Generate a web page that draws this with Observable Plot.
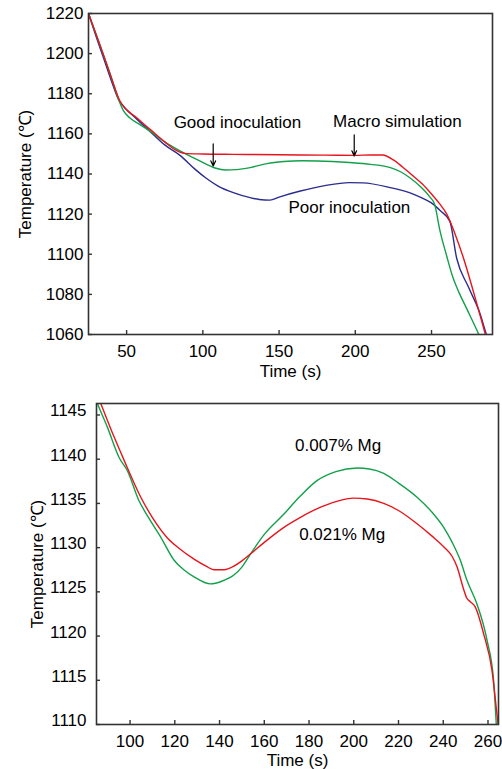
<!DOCTYPE html>
<html><head><meta charset="utf-8">
<script src="https://cdn.jsdelivr.net/npm/d3@7"></script>
<script src="https://cdn.jsdelivr.net/npm/@observablehq/plot@0.6"></script>
<style>body{margin:0;background:#fff;} svg{display:block;}</style>
</head><body><div id="chart"></div>
<script>
// ---------- Top chart data ----------
const topXTicks = [50, 100, 150, 200, 250];
const topYTicks = [1060, 1080, 1100, 1120, 1140, 1160, 1180, 1200, 1220];

const macroTime = [25, 30, 35, 40, 45.5, 50, 55, 65, 75, 82, 88, 100, 120, 150, 180, 200, 210, 218, 225, 231, 238, 244, 250, 255, 260, 265, 271, 278, 285, 290];
const macroTemp = [1220, 1209.5, 1199, 1188, 1176.5, 1172, 1169, 1162.5, 1156, 1152, 1150.3, 1150, 1149.8, 1149.6, 1149.4, 1149.3, 1149.5, 1149.5, 1147, 1143.5, 1139, 1135, 1130, 1125.5, 1120, 1111, 1098, 1080, 1061, 1048];

const goodTime = [25, 30, 35, 40, 45, 48, 52, 58, 65, 75, 85, 98, 108, 115, 122, 131, 142, 153, 165, 175, 196, 210, 223, 230, 236, 243, 249, 252, 255.6, 260, 264, 268, 273, 281, 285];
const goodTemp = [1220, 1209.5, 1199, 1188, 1176.5, 1171.5, 1168, 1165, 1161.5, 1156, 1151.5, 1146.5, 1143, 1142, 1142.2, 1143.2, 1145.2, 1146.2, 1146.6, 1146.5, 1145.7, 1144.8, 1143.2, 1141, 1138, 1133.5, 1128.5, 1125, 1111.5, 1099, 1088.5, 1081, 1073, 1060, 1053];

const poorTime = [25, 30, 35, 40, 44.5, 50, 55, 65, 75, 85, 95, 102, 110, 120, 131, 137, 144, 150, 164, 180, 196, 205, 223, 238, 247, 251, 256, 262, 266.5, 274, 282, 286, 290];
const poorTemp = [1220, 1208.5, 1197.5, 1186.5, 1177.5, 1172, 1168.5, 1161.5, 1154.5, 1149.3, 1142.3, 1138, 1134, 1130.7, 1128.2, 1127.3, 1127, 1128.5, 1131.5, 1134.2, 1135.7, 1135.6, 1133.2, 1130, 1126.8, 1125, 1121.5, 1116.5, 1098, 1084, 1070, 1060, 1052];

const topLabels = ["Good inoculation", "Macro simulation", "Poor inoculation"];
const topLabelTime = [122.7, 227.6, 196.1];
const topLabelTemp = [1165.6, 1166.2, 1123.2];
const topArrowTime = [106.8, 199.3];
const topArrowFrom = [1155, 1159.5];
const topArrowTo = [1144, 1149];

// ---------- Bottom chart data ----------
const botXTicks = [100, 120, 140, 160, 180, 200, 220, 240, 260];
const botYTicks = [1110, 1115, 1120, 1125, 1130, 1135, 1140, 1145];

const mg007Time = [84, 85.4, 89.9, 95.1, 98.8, 104, 108, 113.7, 119.6, 124, 128.6, 136, 141, 146.4, 150, 153.9, 160, 168.8, 176, 183.7, 192, 201.5, 207, 213.4, 220, 228.3, 235, 240.2, 244, 247.6, 250.6, 255.1, 259.6, 262.5, 263.7, 264.2];
const mg007Temp = [1147.2, 1146.3, 1143.6, 1140.2, 1138.7, 1135.3, 1133.5, 1131.2, 1128.6, 1127.5, 1126.7, 1125.9, 1126.2, 1126.9, 1127.8, 1129.3, 1131.5, 1133.8, 1135.8, 1137.6, 1138.6, 1139.0, 1138.9, 1138.4, 1137.3, 1135.7, 1134, 1132.3, 1130.6, 1128.6, 1126.3, 1123.6, 1119.5, 1115, 1110.1, 1108];

const mg021Time = [85, 86.9, 92.9, 97.3, 104.8, 110, 116.7, 122, 128.6, 134, 137.5, 142, 146.4, 150, 153.9, 160, 168.8, 176, 183.7, 192, 200, 206, 213.4, 220, 228.3, 235, 240.2, 244, 246.2, 249.1, 250.5, 252, 254.3, 258, 261.8, 264.3, 265];
const mg021Temp = [1147.5, 1146.3, 1142.5, 1139.9, 1135.7, 1133.4, 1131.1, 1129.9, 1128.7, 1127.9, 1127.5, 1127.5, 1127.9, 1128.5, 1129.3, 1130.6, 1132.3, 1133.4, 1134.4, 1135.2, 1135.6, 1135.5, 1135, 1134.2, 1132.7, 1131.3, 1130.1, 1129, 1127.8, 1125.3, 1124.3, 1123.9, 1123.3, 1120.3, 1116.1, 1110.5, 1109];

const botLabels = ["0.007% Mg", "0.021% Mg"];
const botLabelTime = [193, 194.8];
const botLabelTemp = [1141.6, 1131.5];

// ---------- helpers ----------
const RED = "#e8141c", GREEN = "#12a04a", BLUE = "#2b2d8e", AX = "#333";
const FONT = "'Liberation Sans', Arial, Helvetica, sans-serif";
const FS = 17;
const zip = (ts, vs) => ts.map((t, i) => ({t, v: vs[i]}));
const lineOf = (ts, vs, color) => Plot.line(zip(ts, vs), {x: "t", y: "v", stroke: color, strokeWidth: 1.4, curve: "monotone-x", clip: true});

function makeChart({height, margin, xDomain, yDomain, xTicks, yTicks, yPad, yDy, yTitleDx, xTitleDy, marks}) {
  const innerW = 502 - margin.left - margin.right;
  const innerH = height - margin.top - margin.bottom;
  return Plot.plot({
    width: 502, height,
    marginTop: margin.top, marginRight: margin.right, marginBottom: margin.bottom, marginLeft: margin.left,
    style: {fontSize: FS + "px", fontFamily: FONT, color: "#000", background: "#fff"},
    x: {domain: xDomain, label: null},
    y: {domain: yDomain, label: null},
    marks: [
      ...marks,
      Plot.frame({stroke: AX, strokeWidth: 1.6}),
      Plot.tickX(xTicks, {x: d => d, insetTop: innerH - 4, stroke: AX, strokeWidth: 1.4}),
      Plot.tickY(yTicks, {y: d => d, insetRight: innerW - 4, stroke: AX, strokeWidth: 1.4}),
      Plot.axisX({ticks: xTicks, tickSize: 0, tickPadding: 10, label: null, fill: "#000", fontSize: FS, tickFormat: d => String(d)}),
      Plot.axisY({ticks: yTicks, tickSize: 0, tickPadding: yPad, dy: yDy, label: null, fill: "#000", fontSize: FS, tickFormat: d => String(d)}),
      Plot.text(["Temperature (\u2103)"], {frameAnchor: "left", dx: yTitleDx, rotate: -90, textAnchor: "middle", lineAnchor: "middle", fontSize: FS, fill: "#000"}),
      Plot.text(["Time (s)"], {frameAnchor: "bottom", dy: xTitleDy, textAnchor: "middle", lineAnchor: "middle", fontSize: FS, fill: "#000"})
    ]
  });
}

const topChart = makeChart({
  height: 385,
  margin: {top: 13, right: 10, bottom: 51, left: 88},
  xDomain: [25, 290], yDomain: [1060, 1220],
  xTicks: topXTicks, yTicks: topYTicks, yPad: 5, yDy: 0, yTitleDx: -63, xTitleDy: 37,
  marks: [
    lineOf(poorTime, poorTemp, BLUE),
    lineOf(goodTime, goodTemp, GREEN),
    lineOf(macroTime, macroTemp, RED),
    Plot.text(topLabels, {x: (d, i) => topLabelTime[i], y: (d, i) => topLabelTemp[i], fontSize: FS, fill: "#000"}),
    Plot.arrow(topArrowTime, {x1: d => d, x2: d => d, y1: (d, i) => topArrowFrom[i], y2: (d, i) => topArrowTo[i], stroke: "#000", strokeWidth: 1.2, headLength: 7, headAngle: 50})
  ]
});

const bottomChart = makeChart({
  height: 384,
  margin: {top: 18, right: 4, bottom: 45, left: 96},
  xDomain: [85, 264.7], yDomain: [1110, 1146.3],
  xTicks: botXTicks, yTicks: botYTicks, yPad: 10, yDy: -4, yTitleDx: -59, xTitleDy: 36,
  marks: [
    lineOf(mg007Time, mg007Temp, GREEN),
    lineOf(mg021Time, mg021Temp, RED),
    Plot.text(botLabels, {x: (d, i) => botLabelTime[i], y: (d, i) => botLabelTemp[i], fontSize: FS, fill: "#000"})
  ]
});

const root = document.getElementById("chart");
root.appendChild(topChart);
root.appendChild(bottomChart);
</script></body></html>
